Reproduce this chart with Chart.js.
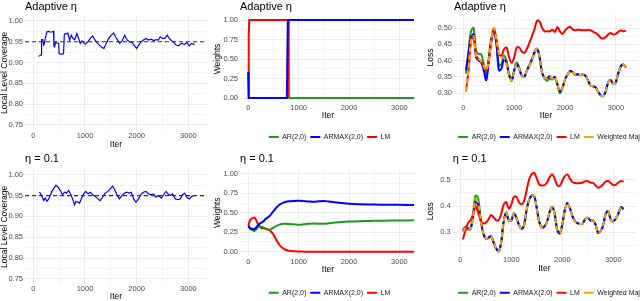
<!DOCTYPE html>
<html><head><meta charset="utf-8">
<script src="https://cdn.jsdelivr.net/npm/chart.js@4.4.1/dist/chart.umd.min.js"></script>
<style>
html,body{margin:0;padding:0;background:#fff;overflow:hidden;width:640px;height:301px;}
canvas{position:absolute;}
</style></head><body>
<canvas id="p1" width="213" height="150" style="left:0px;top:0px"></canvas>
<canvas id="p2" width="233" height="152" style="left:213px;top:0px"></canvas>
<canvas id="p3" width="248" height="152" style="left:426px;top:0px"></canvas>
<canvas id="p4" width="213" height="152" style="left:0px;top:150px"></canvas>
<canvas id="p5" width="233" height="160" style="left:213px;top:150px"></canvas>
<canvas id="p6" width="248" height="160" style="left:426px;top:150px"></canvas>
<script>
// ---------------- DATA ----------------
const panelTitles = ['Adaptive η', 'η = 0.1'];
const modelNames = ['AR(2,0)', 'ARMAX(2,0)', 'LM', 'Weighted Maj.'];
const xMajor = [0, 1000, 2000, 3000];
const xMinor = [500, 1500, 2500];
const covYMajor = [0.75, 0.80, 0.85, 0.90, 0.95, 1.00];
const covYMinor = [0.775, 0.825, 0.875, 0.925, 0.975];
const wYMajor = [0, 0.25, 0.5, 0.75, 1];
const wYMinor = [0.125, 0.375, 0.625, 0.875];
const lossAYMajor = [0.30, 0.35, 0.40, 0.45, 0.50];
const lossAYMinor = [0.325, 0.375, 0.425, 0.475, 0.525];
const lossBYMajor = [0.3, 0.4, 0.5];
const lossBYMinor = [0.25, 0.35, 0.45];
const targetCoverage = 0.95;

// coverage, adaptive eta
const covAdaptIter = [100,135,150,160,185,200,215,232,264,300,340,393,400,412,430,460,490,500,540,574,585,600,619,650,670,702,735,767,800,844,877,909,940,1006,1050,1103,1148,1190,1232,1277,1329,1366,1410,1457,1509,1554,1590,1625,1670,1720,1767,1810,1857,1910,1960,1999,2040,2089,2130,2179,2230,2280,2330,2380,2417,2456,2500,2545,2592,2630,2669,2710,2759,2811,2860,2927,2970,3017,3060,3101,3120];
const covAdaptVal = [0.915,0.917,0.918,0.955,0.955,0.942,0.945,0.958,0.974,0.975,0.973,0.975,0.940,0.938,0.948,0.947,0.946,0.921,0.920,0.920,0.922,0.966,0.970,0.969,0.971,0.954,0.966,0.958,0.955,0.970,0.958,0.946,0.952,0.944,0.949,0.958,0.964,0.955,0.948,0.942,0.936,0.934,0.946,0.958,0.966,0.971,0.962,0.955,0.946,0.952,0.966,0.955,0.950,0.948,0.940,0.934,0.942,0.950,0.954,0.958,0.954,0.956,0.953,0.955,0.954,0.962,0.958,0.958,0.966,0.958,0.953,0.950,0.942,0.940,0.946,0.944,0.948,0.940,0.946,0.944,0.945];
// coverage, eta = 0.1
const covFixedIter = [116,135,167,200,232,264,300,361,400,438,480,522,565,606,645,683,720,761,799,825,864,895,928,974,1015,1058,1100,1148,1200,1251,1290,1341,1390,1444,1490,1535,1575,1619,1664,1715,1767,1810,1857,1895,1941,1986,2035,2089,2130,2179,2230,2282,2325,2372,2420,2476,2520,2566,2605,2650,2695,2746,2795,2843,2885,2927,2970,3017,3060,3101,3120];
const covFixedVal = [0.958,0.956,0.948,0.938,0.944,0.936,0.942,0.960,0.968,0.975,0.970,0.962,0.952,0.958,0.956,0.962,0.954,0.942,0.928,0.936,0.934,0.932,0.942,0.954,0.960,0.954,0.958,0.952,0.948,0.942,0.938,0.946,0.956,0.960,0.966,0.973,0.964,0.952,0.942,0.950,0.956,0.958,0.956,0.958,0.942,0.934,0.942,0.954,0.958,0.960,0.954,0.952,0.954,0.946,0.950,0.944,0.952,0.960,0.954,0.950,0.954,0.942,0.940,0.942,0.952,0.956,0.946,0.942,0.948,0.950,0.950];

// weights, adaptive eta
const wAdaptIter = [0, 8, 20, 765, 785, 792, 802, 3290];
const wAdaptAR    = [0.333, 0, 0, 0, 0, 0, 0, 0];
const wAdaptARMAX = [0.333, 0, 0, 0, 1, 1, 1, 1];
const wAdaptLM    = [0.333, 0.8, 1, 1, 1, 1, 0, 0];
// weights, eta = 0.1
const wFixedIter  = [0,40,80,120,160,200,250,300,350,400,450,500,550,600,650,700,750,800,900,1000,1100,1200,1300,1400,1500,1600,1800,2000,2200,2400,2600,2800,3000,3290];
const wFixedAR    = [0.333,0.29,0.28,0.265,0.29,0.315,0.325,0.31,0.292,0.282,0.29,0.31,0.33,0.345,0.352,0.36,0.358,0.355,0.352,0.348,0.352,0.358,0.362,0.36,0.358,0.365,0.378,0.388,0.393,0.396,0.398,0.40,0.402,0.403];
const wFixedARMAX = [0.333,0.30,0.295,0.29,0.315,0.345,0.37,0.39,0.425,0.445,0.48,0.52,0.56,0.595,0.615,0.63,0.642,0.647,0.652,0.654,0.65,0.645,0.642,0.648,0.652,0.645,0.628,0.616,0.61,0.607,0.605,0.604,0.603,0.60];
const wFixedLM    = [0.333,0.41,0.43,0.44,0.40,0.345,0.31,0.30,0.295,0.285,0.26,0.22,0.16,0.105,0.065,0.04,0.022,0.013,0.005,0.002,0.001,0,0,0,0,0,0,0,0,0,0,0,0,0];

// loss curves
const lossIter = [50,100,150,200,250,300,350,400,450,500,550,600,650,700,750,800,850,900,950,1000,1050,1100,1150,1200,1250,1300,1350,1400,1450,1500,1550,1600,1650,1700,1750,1800,1850,1900,1950,2000,2050,2100,2150,2200,2250,2300,2350,2400,2450,2500,2550,2600,2650,2700,2750,2800,2850,2900,2950,3000,3050,3100,3150,3200];
const lossAdaptAR = [0.36,0.43,0.49,0.50,0.43,0.42,0.42,0.39,0.355,0.41, 0.47,0.495,0.46,0.385,0.39,0.415,0.40,0.36,0.342,0.372, 0.394,0.378,0.354,0.351,0.371,0.386,0.405,0.426,0.437,0.411, 0.362,0.345,0.338,0.345,0.342,0.349,0.326,0.300,0.315,0.342, 0.357,0.368,0.364,0.357,0.358,0.356,0.357,0.354,0.340,0.324, 0.321,0.318,0.305,0.294,0.291,0.305,0.333,0.340,0.328,0.334, 0.362,0.383,0.388,0.379];
const lossAdaptARMAX = [0.37,0.42,0.47,0.48,0.41,0.40,0.395,0.37,0.34,0.40, 0.46,0.49,0.45,0.37,0.375,0.408,0.39,0.355,0.338,0.368, 0.389,0.374,0.352,0.350,0.370,0.385,0.404,0.425,0.436,0.41, 0.362,0.347,0.346,0.352,0.344,0.350,0.328,0.305,0.318,0.342, 0.357,0.368,0.364,0.357,0.358,0.356,0.357,0.354,0.340,0.324, 0.321,0.318,0.305,0.294,0.291,0.305,0.333,0.340,0.328,0.334, 0.362,0.383,0.388,0.379];
const lossAdaptLM = [0.305,0.37,0.46,0.475,0.415,0.405,0.398,0.383,0.370,0.40, 0.46,0.50,0.465,0.42,0.415,0.435,0.44,0.41,0.393,0.41, 0.44,0.44,0.428,0.424,0.436,0.455,0.475,0.497,0.522,0.52, 0.50,0.49,0.49,0.49,0.495,0.488,0.503,0.49,0.482,0.492, 0.500,0.503,0.496,0.493,0.495,0.494,0.493,0.493,0.494,0.493, 0.489,0.485,0.479,0.470,0.468,0.472,0.480,0.485,0.480,0.482, 0.488,0.493,0.490,0.492];
const lossAdaptWM = [0.305,0.37,0.46,0.475,0.415,0.405,0.398,0.383,0.370,0.40, 0.46,0.50,0.465,0.42,0.41,0.408,0.39,0.355,0.338,0.368, 0.389,0.374,0.352,0.350,0.370,0.385,0.404,0.425,0.436,0.41, 0.362,0.347,0.346,0.352,0.344,0.350,0.328,0.305,0.318,0.342, 0.357,0.368,0.364,0.357,0.358,0.356,0.357,0.354,0.340,0.324, 0.321,0.318,0.305,0.294,0.291,0.305,0.333,0.340,0.328,0.334, 0.362,0.383,0.388,0.379];
const lossFixedAR = [0.31,0.318,0.31,0.315,0.37,0.44,0.43,0.35,0.295,0.274, 0.277,0.284,0.262,0.238,0.226,0.258,0.34,0.375,0.345,0.345, 0.372,0.355,0.328,0.313,0.326,0.385,0.425,0.44,0.438,0.39, 0.338,0.317,0.322,0.34,0.376,0.397,0.37,0.305,0.294,0.33, 0.385,0.412,0.39,0.36,0.341,0.334,0.331,0.333,0.35,0.355, 0.345,0.345,0.33,0.298,0.303,0.325,0.37,0.38,0.347,0.341, 0.352,0.372,0.396,0.388];
const lossFixedARMAX = [0.303,0.318,0.315,0.31,0.36,0.415,0.405,0.345,0.295,0.274, 0.277,0.284,0.262,0.238,0.226,0.258,0.34,0.375,0.345,0.345, 0.372,0.355,0.328,0.313,0.326,0.385,0.425,0.44,0.438,0.39, 0.338,0.317,0.322,0.34,0.376,0.397,0.37,0.31,0.297,0.33, 0.385,0.412,0.39,0.36,0.341,0.334,0.331,0.333,0.35,0.355, 0.345,0.345,0.33,0.298,0.303,0.325,0.37,0.38,0.347,0.341, 0.352,0.372,0.396,0.388];
const lossFixedLM = [0.272,0.305,0.335,0.345,0.368,0.40,0.375,0.343,0.333,0.336, 0.348,0.365,0.358,0.346,0.346,0.368,0.405,0.415,0.39,0.405, 0.435,0.435,0.415,0.406,0.418,0.46,0.502,0.522,0.527,0.505, 0.482,0.479,0.48,0.49,0.51,0.522,0.505,0.48,0.478,0.497, 0.515,0.521,0.505,0.492,0.488,0.487,0.488,0.49,0.495,0.495, 0.49,0.489,0.48,0.47,0.474,0.483,0.494,0.496,0.488,0.48, 0.482,0.49,0.496,0.493];
const lossFixedWM = [0.300,0.315,0.313,0.31,0.36,0.425,0.412,0.345,0.295,0.274, 0.277,0.284,0.262,0.238,0.226,0.258,0.34,0.375,0.345,0.345, 0.372,0.355,0.328,0.313,0.326,0.385,0.425,0.44,0.438,0.39, 0.338,0.317,0.322,0.34,0.376,0.397,0.37,0.31,0.297,0.33, 0.385,0.412,0.39,0.36,0.341,0.334,0.331,0.333,0.35,0.355, 0.345,0.345,0.33,0.298,0.303,0.325,0.37,0.38,0.347,0.341, 0.352,0.372,0.396,0.388];

// ---------------- STYLE / HELPERS ----------------
const FONT = "'Liberation Sans', Arial, Helvetica, sans-serif";
Chart.defaults.font.family = FONT;
const COL = {AR: '#1E9A1E', ARMAX: '#0000FF', LM: '#FF0000', WM: '#FFA500'};

function xy(iter, vals) { return iter.map((x, i) => ({x: x, y: vals[i]})); }

function axis(o) {
  const all = o.major.concat(o.minor).sort((a, b) => a - b);
  const isMaj = v => o.major.some(m => Math.abs(m - v) < 1e-9);
  return {
    type: 'linear', position: o.position, min: o.min, max: o.max,
    afterBuildTicks: s => { s.ticks = all.map(v => ({value: v})); },
    afterFit: s => { if (s.isHorizontal()) s.height = o.size; else s.width = o.size; },
    grid: { display: true, drawTicks: false, lineWidth: 1,
            color: c => (c.tick && !isMaj(c.tick.value)) ? '#F4F4F4' : '#EBEBEB' },
    border: { display: false },
    ticks: { autoSkip: false, maxRotation: 0, minRotation: 0, padding: o.tickPad,
             color: '#4D4D4D', font: {size: 7.5, family: FONT},
             callback: v => isMaj(v) ? o.fmt(v) : '' },
    title: { display: true, text: o.title, color: '#000', font: {size: 8.5, family: FONT}, padding: o.titlePad }
  };
}
function dummyRight(w) {
  return { type: 'linear', position: 'right', display: true,
           grid: {display: false}, border: {display: false}, ticks: {display: false},
           afterFit: s => { s.width = w; } };
}
function legendCfg(show) {
  if (!show) return {display: false};
  return { display: true, position: 'bottom', align: 'center',
    labels: { usePointStyle: true, pointStyle: 'line', pointStyleWidth: 10, boxHeight: 7,
              padding: 4, color: '#1A1A1A', font: {size: 7, family: FONT},
              sort: (a, b) => a.datasetIndex - b.datasetIndex } };
}
function opts(p) {
  const scales = { x: p.x, y: p.y };
  if (p.right) scales.yr = dummyRight(p.right);
  return {
    responsive: false, animation: false, devicePixelRatio: 1,
    layout: { padding: p.pad },
    plugins: {
      title: { display: true, text: p.title, align: 'start', fullSize: false, color: '#000',
               font: {size: 11, family: FONT, weight: 'normal'}, padding: p.titlePad },
      legend: legendCfg(p.legend),
      tooltip: { enabled: false }
    },
    scales: scales
  };
}
function line(label, data, color, width, order, extra) {
  return Object.assign({ label: label, data: data, borderColor: color, backgroundColor: color,
    borderWidth: width, pointRadius: 0, fill: false, tension: 0, order: order }, extra || {});
}
const f2 = v => v.toFixed(2), f1 = v => v.toFixed(1), f0 = v => String(v);

// ---------------- coverage ----------------
function coverageChart(id, iter, vals, title, L) {
  new Chart(document.getElementById(id), {
    type: 'line',
    data: { datasets: [
      line('target', [{x: L.xmin, y: targetCoverage}, {x: L.xmax, y: targetCoverage}], '#333333', 1.2, 0, {borderDash: [4, 3]}),
      line('coverage', xy(iter, vals), '#0000FF', 1.2, 1)
    ]},
    options: opts({
      title: title, titlePad: L.titlePad, pad: L.pad, legend: false,
      x: axis({position: 'bottom', min: L.xmin, max: L.xmax, major: xMajor, minor: xMinor, size: L.xSize,
               tickPad: L.xTickPad, fmt: f0, title: 'Iter', titlePad: {top: 0, bottom: L.iterPad}}),
      y: axis({position: 'left', min: 0.7375, max: 1.0125, major: covYMajor, minor: covYMinor, size: 25,
               tickPad: 2, fmt: f2, title: 'Local Level Coverage', titlePad: {top: 0, bottom: 0}})
    })
  });
}
coverageChart('p1', covAdaptIter, covAdaptVal, panelTitles[0],
  {xmin: -160, xmax: 3360, titlePad: {top: 0, bottom: 2.6}, pad: {top: 0, left: 0, right: 6, bottom: 0},
   xSize: 20, xTickPad: 1.5, iterPad: 0.6});
coverageChart('p4', covFixedIter, covFixedVal, panelTitles[1],
  {xmin: -160, xmax: 3360, titlePad: {top: 2.4, bottom: 3.9}, pad: {top: 0, left: 0, right: 6, bottom: 0},
   xSize: 17.8, xTickPad: 0.3, iterPad: 0.2});

// ---------------- weights ----------------
function weightsChart(id, iter, ar, armax, lm, title, L) {
  new Chart(document.getElementById(id), {
    type: 'line',
    data: { datasets: [
      line(modelNames[0], xy(iter, ar), COL.AR, 2, 2, {tension: L.tension}),
      line(modelNames[1], xy(iter, armax), COL.ARMAX, 2, 1, {tension: L.tension}),
      line(modelNames[2], xy(iter, lm), COL.LM, 2, 3, {tension: L.tension})
    ]},
    options: opts({
      title: title, titlePad: L.titlePad, pad: L.pad, legend: true, right: 30,
      x: axis({position: 'bottom', min: -165, max: 3330, major: xMajor, minor: xMinor, size: L.xSize,
               tickPad: L.xTickPad, fmt: f0, title: 'Iter', titlePad: {top: 0, bottom: L.iterPad}}),
      y: axis({position: 'left', min: -0.05, max: 1.05, major: wYMajor, minor: wYMinor, size: 27,
               tickPad: 2, fmt: f2, title: 'Weights', titlePad: {top: 0, bottom: 0}})
    })
  });
}
weightsChart('p2', wAdaptIter, wAdaptAR, wAdaptARMAX, wAdaptLM, panelTitles[0],
  {tension: 0, titlePad: {top: 0, bottom: 2.9}, pad: {top: 0, left: 0, right: 0, bottom: 1.5},
   xSize: 27.6, xTickPad: 1.5, iterPad: 8.4});
weightsChart('p5', wFixedIter, wFixedAR, wFixedARMAX, wFixedLM, panelTitles[1],
  {tension: 0.3, titlePad: {top: 2.4, bottom: 4.4}, pad: {top: 0, left: 0, right: 0, bottom: 3.8},
   xSize: 29.6, xTickPad: 2.2, iterPad: 10.1});

// ---------------- loss ----------------
function lossChart(id, ar, armax, lm, wm, title, L) {
  new Chart(document.getElementById(id), {
    type: 'line',
    data: { datasets: [
      line(modelNames[0], xy(lossIter, ar), COL.AR, 2, 4, {tension: 0.35}),
      line(modelNames[1], xy(lossIter, armax), COL.ARMAX, 2, 3, {tension: 0.35}),
      line(modelNames[2], xy(lossIter, lm), COL.LM, 2, 2, {tension: 0.35}),
      line(modelNames[3], xy(lossIter, wm), COL.WM, 2, 1, {tension: 0.35, borderDash: [5, 3]})
    ]},
    options: opts({
      title: title, titlePad: L.titlePad, pad: L.pad, legend: true, right: L.right,
      x: axis({position: 'bottom', min: L.xmin, max: L.xmax, major: xMajor, minor: xMinor, size: L.xSize,
               tickPad: L.xTickPad, fmt: f0, title: 'Iter', titlePad: {top: 0, bottom: L.iterPad}}),
      y: axis({position: 'left', min: L.ymin, max: L.ymax, major: L.yMajor, minor: L.yMinor, size: L.ySize,
               tickPad: 2, fmt: L.fmt, title: 'Loss', titlePad: {top: 0, bottom: 0}})
    })
  });
}
lossChart('p3', lossAdaptAR, lossAdaptARMAX, lossAdaptLM, lossAdaptWM, panelTitles[0],
  {xmin: -185, xmax: 3437, ymin: 0.279, ymax: 0.540, yMajor: lossAYMajor, yMinor: lossAYMinor, fmt: f2,
   ySize: 28, right: 36, titlePad: {top: 0, bottom: 1.8}, pad: {top: 0, left: 0, right: 0, bottom: 1.5},
   xSize: 29.5, xTickPad: 3.8, iterPad: 8.4});
lossChart('p6', lossFixedAR, lossFixedARMAX, lossFixedLM, lossFixedWM, panelTitles[1],
  {xmin: -149, xmax: 3445, ymin: 0.212, ymax: 0.547, yMajor: lossBYMajor, yMinor: lossBYMinor, fmt: f1,
   ySize: 26.7, right: 38, titlePad: {top: 2.4, bottom: 2.1}, pad: {top: 0, left: 0, right: 0, bottom: 3.8},
   xSize: 30.2, xTickPad: 0.5, iterPad: 11.8});
</script>
</body></html>
